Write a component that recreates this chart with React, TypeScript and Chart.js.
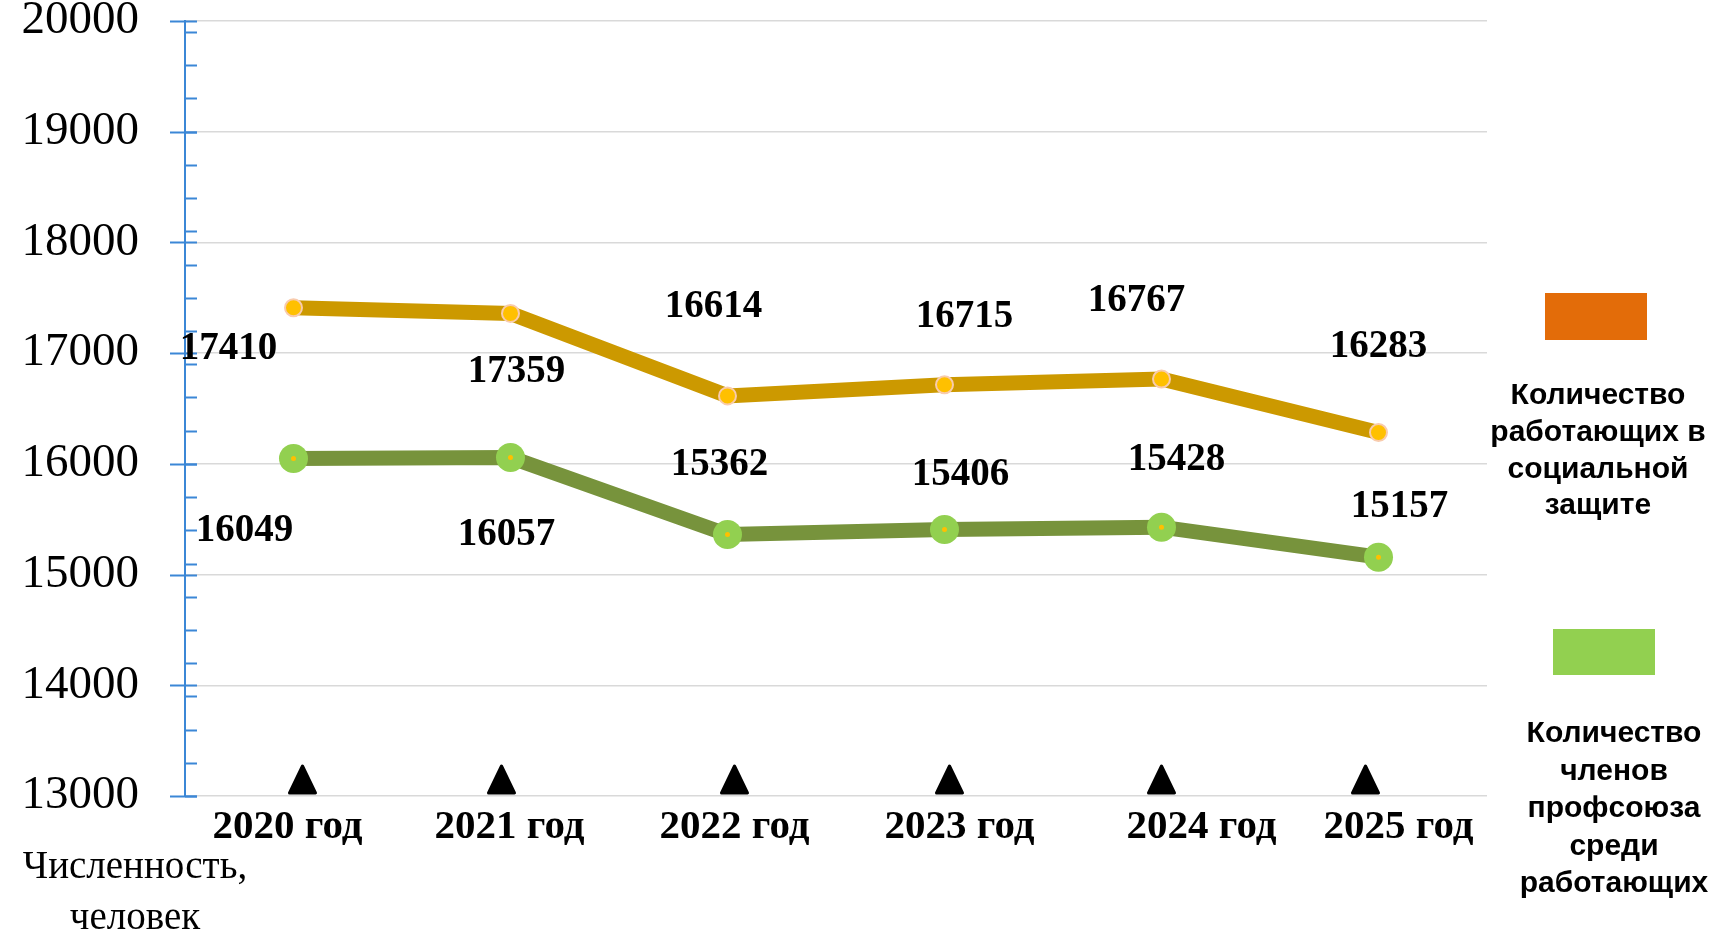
import React, { useEffect, useRef } from 'react';
import { Chart, registerables } from 'chart.js';

Chart.register(...registerables);

// ---- data ----
const years = ['2020 год', '2021 год', '2022 год', '2023 год', '2024 год', '2025 год'];
const workers = [17410, 17359, 16614, 16715, 16767, 16283];
const members = [16049, 16057, 15362, 15406, 15428, 15157];
const yMin = 13000;
const yMax = 20000;
const yStep = 1000;
const minorStart = 19900;
const minorStep = 300;
const legendWorkers = ['Количество', 'работающих в', 'социальной', 'защите'];
const legendMembers = ['Количество', 'членов', 'профсоюза', 'среди', 'работающих'];
const axisTitle = ['Численность,', 'человек'];

// ---- layout (pixel offsets, not data) ----
const workersLabelOffsets = [[-65, 41], [6, 59], [-14, -89], [20, -68], [-25, -78], [0, -86]];
const membersLabelOffsets = [[-49, 72], [-4, 77], [-8, -70], [16, -55], [15, -67], [21, -50]];
const xLabelOffsets = [-6, -1, 7, 15, 40, 20];
const triangleOffsets = [9, -9, 7, 5, 0, -13];

const BLUE = '#3B87D6';
const GRID = '#D9D9D9';
const ORANGE_LINE = '#CC9900';
const ORANGE_POINT = '#FFC000';
const ORANGE_POINT_BORDER = '#F8CBAD';
const GREEN_LINE = '#77933C';
const GREEN_POINT = '#92D050';
const LEGEND_ORANGE = '#E36C09';
const LEGEND_GREEN = '#92D050';

const decorPlugin = {
  id: 'decor',
  afterDraw(chart: any) {
    const ctx = chart.ctx as CanvasRenderingContext2D;
    const xs = chart.scales.x;
    const ys = chart.scales.y;
    const area = chart.chartArea;
    ctx.save();

    // blue y-axis ticks
    ctx.strokeStyle = BLUE;
    ctx.lineWidth = 2;
    for (let v = yMin; v <= yMax; v += yStep) {
      const py = Math.round(ys.getPixelForValue(v)) + 0.5;
      ctx.beginPath();
      ctx.moveTo(area.left - 15, py);
      ctx.lineTo(area.left + 12, py);
      ctx.stroke();
    }
    for (let v = minorStart; v >= yMin; v -= minorStep) {
      const py = Math.round(ys.getPixelForValue(v)) + 0.5;
      ctx.beginPath();
      ctx.moveTo(area.left, py);
      ctx.lineTo(area.left + 12, py);
      ctx.stroke();
    }

    // triangles at x ticks
    ctx.fillStyle = '#000';
    ctx.strokeStyle = '#000';
    ctx.lineWidth = 3;
    ctx.lineJoin = 'round';
    years.forEach((_, i) => {
      const cx = xs.getPixelForValue(i) + triangleOffsets[i];
      const base = area.bottom - 3;
      ctx.beginPath();
      ctx.moveTo(cx, base - 27);
      ctx.lineTo(cx + 13, base);
      ctx.lineTo(cx - 13, base);
      ctx.closePath();
      ctx.fill();
      ctx.stroke();
    });

    // x labels
    ctx.fillStyle = '#000';
    ctx.textAlign = 'center';
    ctx.textBaseline = 'middle';
    ctx.font = 'bold 41px "Liberation Serif"';
    years.forEach((lab, i) => {
      const cx = xs.getPixelForValue(i) + xLabelOffsets[i];
      ctx.fillText(lab, cx, area.bottom + 31);
    });

    // green centre dots
    const mMeta = chart.getDatasetMeta(1);
    ctx.fillStyle = ORANGE_POINT;
    mMeta.data.forEach((p: any) => {
      ctx.beginPath();
      ctx.arc(p.x, p.y, 2.5, 0, Math.PI * 2);
      ctx.fill();
    });

    // data labels
    ctx.fillStyle = '#000';
    ctx.font = 'bold 39px "Liberation Serif"';
    const wMeta = chart.getDatasetMeta(0);
    wMeta.data.forEach((p: any, i: number) => {
      const [dx, dy] = workersLabelOffsets[i];
      ctx.fillText(String(workers[i]), p.x + dx, p.y + dy);
    });
    mMeta.data.forEach((p: any, i: number) => {
      const [dx, dy] = membersLabelOffsets[i];
      ctx.fillText(String(members[i]), p.x + dx, p.y + dy);
    });

    // axis title
    ctx.font = '39px "Liberation Serif"';
    ctx.fillText(axisTitle[0], 135, 868);
    ctx.fillText(axisTitle[1], 135, 919);

    // legend
    ctx.fillStyle = LEGEND_ORANGE;
    ctx.fillRect(1545, 293, 102, 47);
    ctx.fillStyle = LEGEND_GREEN;
    ctx.fillRect(1553, 629, 102, 46);
    ctx.fillStyle = '#000';
    ctx.font = 'bold 30px "Liberation Sans"';
    legendWorkers.forEach((t, i) => ctx.fillText(t, 1598, 396 + i * 36.7));
    legendMembers.forEach((t, i) => ctx.fillText(t, 1614, 734 + i * 37.5));

    ctx.restore();
  },
};

export default function App() {
  const ref = useRef<HTMLCanvasElement | null>(null);

  useEffect(() => {
    if (!ref.current) return;
    const chart = new Chart(ref.current, {
      type: 'line',
      data: {
        labels: years,
        datasets: [
          {
            label: 'Количество работающих в социальной защите',
            data: workers,
            borderColor: ORANGE_LINE,
            borderWidth: 15,
            pointRadius: 8.5,
            pointBackgroundColor: ORANGE_POINT,
            pointBorderColor: ORANGE_POINT_BORDER,
            pointBorderWidth: 2,
            tension: 0,
            fill: false,
          },
          {
            label: 'Количество членов профсоюза среди работающих',
            data: members,
            borderColor: GREEN_LINE,
            borderWidth: 15,
            pointRadius: 14.5,
            pointBackgroundColor: GREEN_POINT,
            pointBorderWidth: 0,
            tension: 0,
            fill: false,
          },
        ],
      },
      options: {
        responsive: false,
        animation: false,
        layout: { padding: { left: 0, right: 229, top: 21, bottom: 0 } },
        plugins: {
          legend: { display: false },
          tooltip: { enabled: false },
        },
        scales: {
          x: {
            offset: true,
            grid: { display: false, drawTicks: false },
            border: { display: false },
            ticks: { display: false },
            afterFit: (s: any) => {
              s.height = 140;
              s.paddingLeft = 0;
              s.paddingRight = 0;
            },
          },
          y: {
            min: yMin,
            max: yMax,
            ticks: {
              stepSize: yStep,
              padding: 46,
              color: '#000',
              font: { family: 'Liberation Serif', size: 47 },
              callback: (v: any) => String(v),
            },
            grid: { color: GRID, lineWidth: 1.5, drawTicks: false },
            border: { color: BLUE, width: 2 },
            afterFit: (s: any) => {
              s.width = 185;
              s.paddingTop = 0;
              s.paddingBottom = 0;
            },
          },
        },
      } as any,
      plugins: [decorPlugin],
    });
    return () => chart.destroy();
  }, []);

  return (
    <div style={{ position: 'absolute', left: 0, top: 0, width: 1716, height: 936, background: '#fff' }}>
      <canvas ref={ref} width={1716} height={936} style={{ display: 'block' }} />
    </div>
  );
}
